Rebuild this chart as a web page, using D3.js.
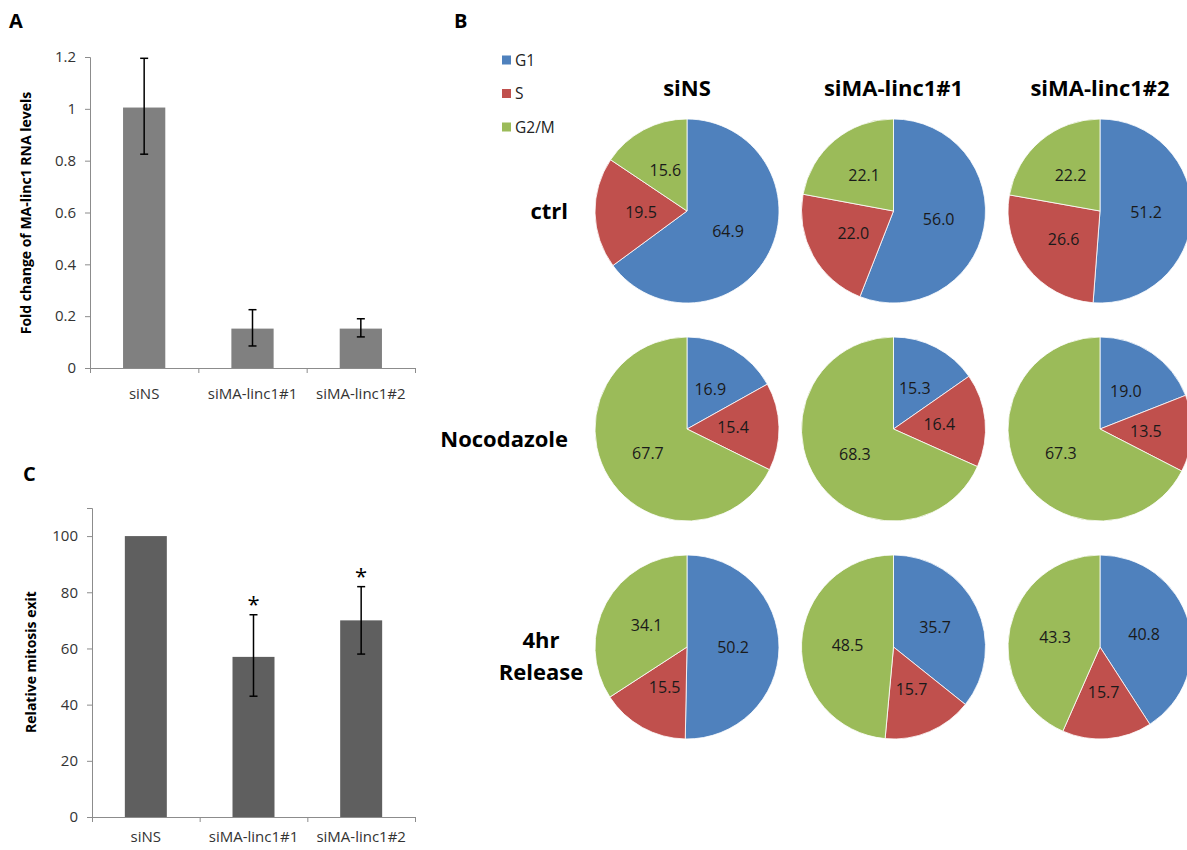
<!DOCTYPE html>
<html>
<head>
<meta charset="utf-8">
<script src="https://cdn.jsdelivr.net/npm/d3@7"></script>
<style>
  body { margin: 0; background: #fff; }
  text { font-family: "Open Sans", "Noto Sans", sans-serif; }
</style>
</head>
<body>
<div id="chart"></div>
<script>
// ---- data ----
const siRNAs = ["siNS", "siMA-linc1#1", "siMA-linc1#2"];

// panel A: fold change of MA-linc1 RNA
const foldValues = [1.005, 0.152, 0.152];
const foldErrLow = [0.825, 0.085, 0.12];
const foldErrHigh = [1.195, 0.225, 0.19];
const foldTicks = [0, 0.2, 0.4, 0.6, 0.8, 1, 1.2];

// panel C: relative mitosis exit
const exitValues = [100, 57, 70];
const exitErrLow = [null, 43, 58];
const exitErrHigh = [null, 72, 82];
const exitStars = ["", "*", "*"];
const exitTicks = [0, 20, 40, 60, 80, 100];

// panel B: cell cycle phase distribution
const phases = ["G1", "S", "G2/M"];
const phaseColors = ["#4F81BD", "#C0504D", "#9BBB59"];
const conditions = ["ctrl", "Nocodazole", "4hr Release"];
const ctrlPhases = [[64.9, 19.5, 15.6], [56.0, 22.0, 22.1], [51.2, 26.6, 22.2]];
const nocoPhases = [[16.9, 15.4, 67.7], [15.3, 16.4, 68.3], [19.0, 13.5, 67.3]];
const releasePhases = [[50.2, 15.5, 34.1], [35.7, 15.7, 48.5], [40.8, 15.7, 43.3]];

const W = 1187, H = 850;
const svg = d3.select("#chart").append("svg")
  .attr("width", W).attr("height", H);

// panel letters
[["A", 9, 28], ["B", 454, 28], ["C", 23, 481]].forEach(([t, x, y]) => {
  svg.append("text").attr("x", x).attr("y", y)
    .style("font-size", "20px").style("font-weight", "bold").text(t);
});

// ---- bar panel helper ----
function barPanel(opts) {
  const g = svg.append("g");
  const x = d3.scaleBand().domain(siRNAs)
    .range([opts.left, opts.right])
    .paddingInner(0.61).paddingOuter(0.305);
  const y = d3.scaleLinear().domain(opts.domain).range([opts.bottom, opts.top]);

  // y axis
  const ya = g.append("g")
    .attr("transform", `translate(${opts.left},0)`)
    .call(d3.axisLeft(y).tickValues(opts.ticks).tickSize(5).tickPadding(9)
      .tickFormat(d3.format("~g")));
  ya.select(".domain").attr("stroke", "#8c8c8c");
  ya.selectAll(".tick line").attr("stroke", "#8c8c8c");
  ya.selectAll(".tick text").style("font-size", "15px").attr("fill", "#333")
    .style("font-family", "'Open Sans', sans-serif");

  // x axis: boundary ticks + category labels
  const xb = d3.scaleLinear().domain([0, siRNAs.length]).range([opts.left, opts.right]);
  const xa = g.append("g")
    .attr("transform", `translate(0,${opts.bottom})`)
    .call(d3.axisBottom(xb).tickValues(d3.range(siRNAs.length + 1)).tickSize(5).tickFormat(""));
  xa.select(".domain").attr("stroke", "#8c8c8c");
  xa.selectAll(".tick line").attr("stroke", "#8c8c8c");
  const xl = g.append("g")
    .attr("transform", `translate(0,${opts.bottom})`)
    .call(d3.axisBottom(x).tickSize(0).tickPadding(opts.labelPad));
  xl.select(".domain").remove();
  xl.selectAll(".tick text").style("font-size", "15px").attr("fill", "#333")
    .style("font-family", "'Open Sans', sans-serif");

  // bars
  g.selectAll(".bar").data(opts.values).enter().append("rect")
    .attr("x", (d, i) => x(siRNAs[i]))
    .attr("y", d => y(d))
    .attr("width", x.bandwidth())
    .attr("height", d => y(0) - y(d))
    .attr("fill", opts.color);

  // error bars
  opts.values.forEach((v, i) => {
    if (opts.lo[i] == null) return;
    const cx = x(siRNAs[i]) + x.bandwidth() / 2;
    const eg = g.append("g").attr("stroke", "#000").attr("stroke-width", 1.5);
    eg.append("line").attr("x1", cx).attr("x2", cx).attr("y1", y(opts.lo[i])).attr("y2", y(opts.hi[i]));
    [opts.lo[i], opts.hi[i]].forEach(e => {
      eg.append("line").attr("x1", cx - 4).attr("x2", cx + 4).attr("y1", y(e)).attr("y2", y(e));
    });
    if (opts.stars && opts.stars[i]) {
      g.append("text").attr("x", cx).attr("y", y(opts.hi[i]) - 3)
        .attr("text-anchor", "middle").style("font-size", "22px").text(opts.stars[i]);
    }
  });

  // y title
  g.append("text")
    .attr("transform", `translate(${opts.titleX},${opts.titleY}) rotate(-90)`)
    .attr("text-anchor", "middle")
    .style("font-size", "14px").style("font-weight", "bold")
    .text(opts.title);
}

barPanel({
  left: 90, right: 415, top: 57, bottom: 368,
  domain: [0, 1.2], ticks: foldTicks, values: foldValues,
  lo: foldErrLow, hi: foldErrHigh, color: "#808080", labelPad: 20,
  title: "Fold change of MA-linc1  RNA levels", titleX: 31, titleY: 213
});

barPanel({
  left: 92, right: 415, top: 508, bottom: 817,
  domain: [0, 110], ticks: exitTicks, values: exitValues,
  lo: exitErrLow, hi: exitErrHigh, stars: exitStars, color: "#5f5f5f", labelPad: 14,
  title: "Relative mitosis exit", titleX: 36, titleY: 662
});

// ---- panel B: pies ----
const colX = d3.scalePoint().domain(siRNAs).range([687, 1100]);
const rowY = d3.scalePoint().domain(conditions).range([211, 647]);
const pieData = [ctrlPhases, nocoPhases, releasePhases];
const radius = 92;
const pie = d3.pie().sort(null);
const arc = d3.arc().innerRadius(0).outerRadius(radius);
const labelArc = d3.arc().innerRadius(radius * 0.5).outerRadius(radius * 0.5);

// legend
phases.forEach((p, i) => {
  const ly = 60 + i * 33.5;
  svg.append("rect").attr("x", 502).attr("y", ly - 4.5).attr("width", 9).attr("height", 9)
    .attr("fill", phaseColors[i]);
  svg.append("text").attr("x", 515).attr("y", ly + 5.5)
    .style("font-size", "15.5px").attr("fill", "#222").text(p);
});

// column titles
siRNAs.forEach(s => {
  svg.append("text").attr("x", colX(s)).attr("y", 96)
    .attr("text-anchor", "middle").style("font-size", "22px").style("font-weight", "bold")
    .text(s);
});

// row labels
svg.append("text").attr("x", 568).attr("y", 219).attr("text-anchor", "end")
  .style("font-size", "22px").style("font-weight", "bold").text("ctrl");
svg.append("text").attr("x", 568).attr("y", 447).attr("text-anchor", "end")
  .style("font-size", "22px").style("font-weight", "bold").text("Nocodazole");
const rel = svg.append("text").attr("x", 541).attr("y", 648).attr("text-anchor", "middle")
  .style("font-size", "22px").style("font-weight", "bold");
rel.append("tspan").attr("x", 541).attr("dy", 0).text("4hr");
rel.append("tspan").attr("x", 541).attr("dy", 32).text("Release");

pieData.forEach((row, ri) => {
  row.forEach((vals, ci) => {
    const g = svg.append("g")
      .attr("transform", `translate(${colX(siRNAs[ci])},${rowY(conditions[ri])})`);
    const arcs = pie(vals);
    g.selectAll("path").data(arcs).enter().append("path")
      .attr("d", arc)
      .attr("fill", (d, i) => phaseColors[i])
      .attr("stroke", "#fff").attr("stroke-width", 0.8);
    g.selectAll("text").data(arcs).enter().append("text")
      .attr("transform", d => `translate(${labelArc.centroid(d)})`)
      .attr("text-anchor", "middle").attr("dy", "0.35em")
      .style("font-size", "16px").attr("fill", "#1a1a1a")
      .text(d => d.data.toFixed(1));
  });
});
</script>
</body>
</html>
